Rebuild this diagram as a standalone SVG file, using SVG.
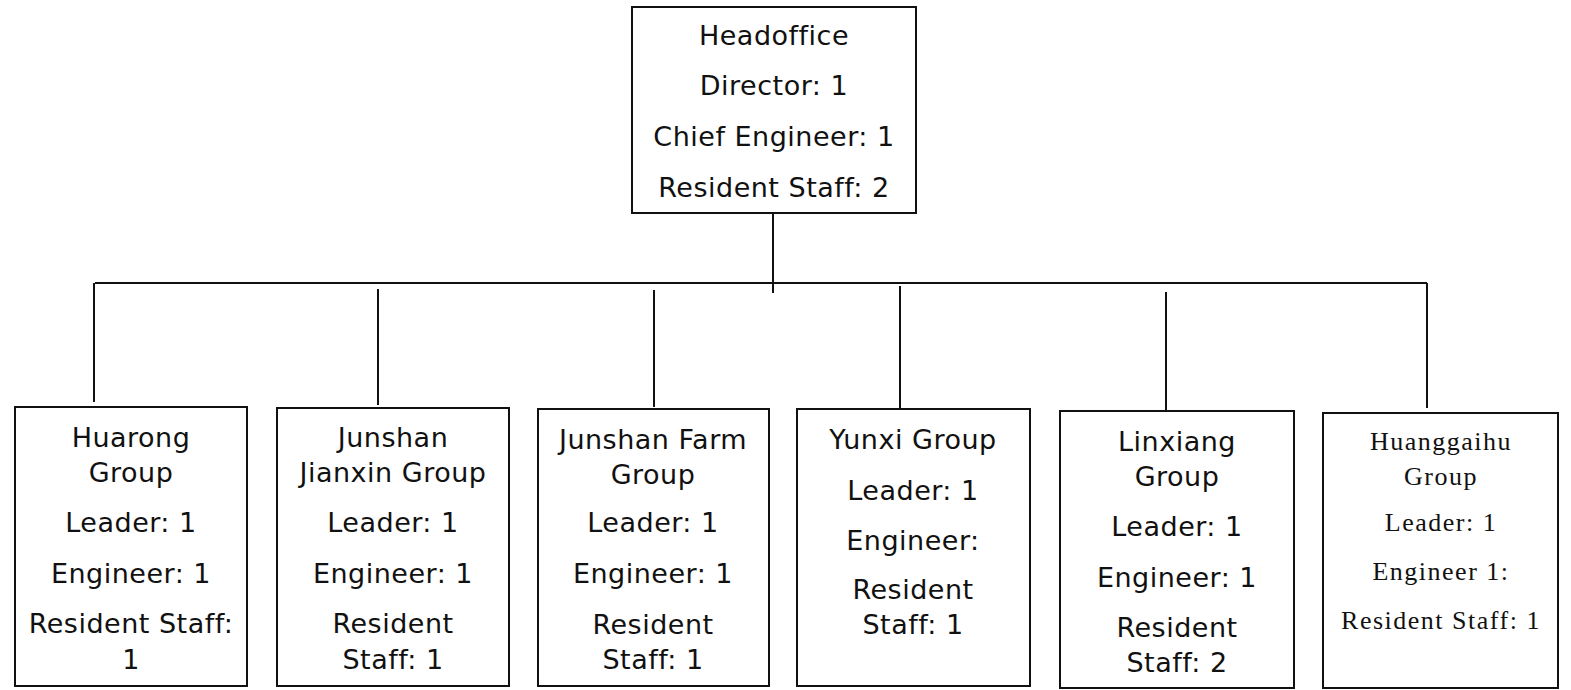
<svg xmlns="http://www.w3.org/2000/svg" width="1571" height="690" viewBox="0 0 1571 690">
  <style>
    .box { fill: #ffffff; stroke: #111111; stroke-width: 2; }
    .wire { fill: none; stroke: #111111; stroke-width: 2; }
    .t { font-family: "DejaVu Sans", "Liberation Sans", sans-serif; font-size: 27px; letter-spacing: 0.5px; fill: #111111; text-anchor: middle; }
    .s { font-family: "Liberation Serif", "DejaVu Serif", serif; font-size: 26px; letter-spacing: 1.5px; fill: #111111; text-anchor: middle; }
  </style>
  <rect width="1571" height="690" fill="#ffffff"/>

  <!-- connectors: trunk, bus bar and drops -->
  <g id="connectors">
    <line class="wire" x1="773" y1="214" x2="773" y2="293"/>
    <line class="wire" x1="95" y1="283" x2="1427" y2="283"/>
    <line class="wire" x1="94" y1="283" x2="94" y2="402"/>
    <line class="wire" x1="378" y1="289" x2="378" y2="405"/>
    <line class="wire" x1="654" y1="290" x2="654" y2="407"/>
    <line class="wire" x1="900" y1="286" x2="900" y2="408"/>
    <line class="wire" x1="1166" y1="292" x2="1166" y2="410"/>
    <line class="wire" x1="1427" y1="283" x2="1427" y2="408"/>
  </g>

  <g id="headoffice">
    <rect class="box" x="632" y="7" width="284" height="206"/>
    <text class="t" x="774" y="45">Headoffice</text>
    <text class="t" x="774" y="95">Director: 1</text>
    <text class="t" x="774" y="146">Chief Engineer: 1</text>
    <text class="t" x="774" y="197">Resident Staff: 2</text>
  </g>

  <g id="huarong">
    <rect class="box" x="15" y="407" width="232" height="279"/>
    <text class="t" x="131" y="447">Huarong</text>
    <text class="t" x="131" y="482">Group</text>
    <text class="t" x="131" y="532">Leader: 1</text>
    <text class="t" x="131" y="583">Engineer: 1</text>
    <text class="t" x="131" y="633">Resident Staff:</text>
    <text class="t" x="131" y="669">1</text>
  </g>

  <g id="junshan-jianxin">
    <rect class="box" x="277" y="408" width="232" height="278"/>
    <text class="t" x="393" y="447">Junshan</text>
    <text class="t" x="393" y="482">Jianxin Group</text>
    <text class="t" x="393" y="532">Leader: 1</text>
    <text class="t" x="393" y="583">Engineer: 1</text>
    <text class="t" x="393" y="633">Resident</text>
    <text class="t" x="393" y="669">Staff: 1</text>
  </g>

  <g id="junshan-farm">
    <rect class="box" x="538" y="409" width="231" height="277"/>
    <text class="t" x="653" y="449">Junshan Farm</text>
    <text class="t" x="653" y="484">Group</text>
    <text class="t" x="653" y="532">Leader: 1</text>
    <text class="t" x="653" y="583">Engineer: 1</text>
    <text class="t" x="653" y="634">Resident</text>
    <text class="t" x="653" y="669">Staff: 1</text>
  </g>

  <g id="yunxi">
    <rect class="box" x="797" y="409" width="233" height="277"/>
    <text class="t" x="913" y="449">Yunxi Group</text>
    <text class="t" x="913" y="500">Leader: 1</text>
    <text class="t" x="913" y="550">Engineer:</text>
    <text class="t" x="913" y="599">Resident</text>
    <text class="t" x="913" y="634">Staff: 1</text>
  </g>

  <g id="linxiang">
    <rect class="box" x="1060" y="411" width="234" height="277"/>
    <text class="t" x="1177" y="451">Linxiang</text>
    <text class="t" x="1177" y="486">Group</text>
    <text class="t" x="1177" y="536">Leader: 1</text>
    <text class="t" x="1177" y="587">Engineer: 1</text>
    <text class="t" x="1177" y="637">Resident</text>
    <text class="t" x="1177" y="672">Staff: 2</text>
  </g>

  <g id="huanggaihu">
    <rect class="box" x="1323" y="413" width="235" height="275"/>
    <text class="s" x="1441" y="450">Huanggaihu</text>
    <text class="s" x="1441" y="485">Group</text>
    <text class="s" x="1441" y="531">Leader: 1</text>
    <text class="s" x="1441" y="580">Engineer 1:</text>
    <text class="s" x="1441" y="629">Resident Staff: 1</text>
  </g>
</svg>
